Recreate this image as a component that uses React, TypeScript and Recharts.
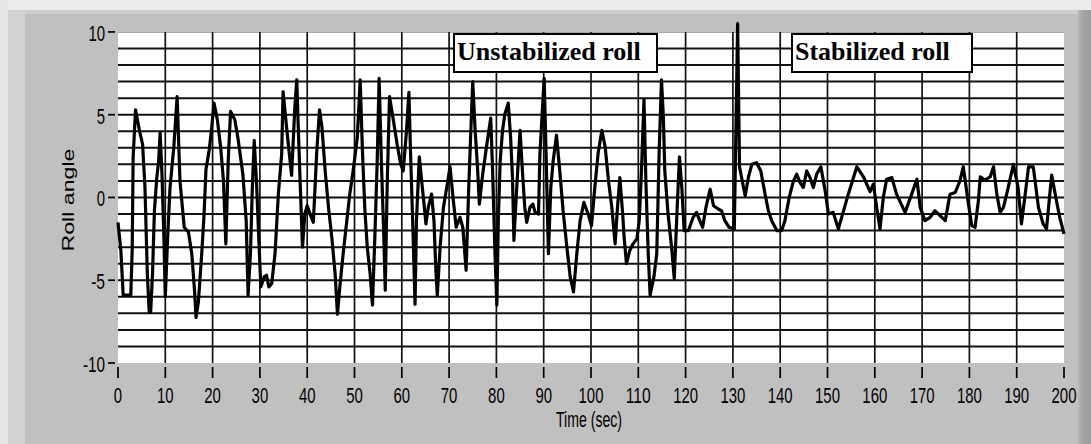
import React from "react";
import { LineChart, Line, XAxis, YAxis, ReferenceLine } from "recharts";

// roll angle trace (time in seconds)
const TIME_SEC = [
  0.0, 0.6, 1.1, 2.7, 3.0, 3.2, 3.7, 4.5, 5.2, 5.7, 6.2, 6.6, 6.9, 7.3, 7.7, 8.2, 8.6, 8.9, 9.3, 9.7,
  10.0, 10.5, 11.0, 11.8, 12.5, 13.1, 14.0, 14.9, 15.6, 16.2, 16.5, 17.0, 17.7, 18.2, 18.6, 19.3, 19.8,
  20.3, 21.0, 21.7, 22.3, 22.8, 23.3, 23.8, 24.7, 25.4, 26.4, 27.1, 27.5, 28.0, 28.4, 28.8, 29.3, 29.9,
  30.2, 30.9, 31.4, 31.9, 32.5, 33.2, 33.9, 34.6, 34.9, 35.7, 36.7, 37.4, 37.8, 38.1, 38.5, 39.0, 39.5,
  40.0, 40.6, 41.3, 42.0, 42.6, 43.1, 43.8, 44.5, 45.2, 45.9, 46.4, 46.9, 47.6, 48.3, 49.0, 49.8,
  50.6, 51.2, 51.7, 52.2, 52.7, 53.3, 53.8, 54.3, 54.8, 55.2, 55.7, 56.2, 56.5, 56.9, 57.4, 58.2, 59.1, 59.8,
  60.3, 61.0, 61.5, 61.9, 62.4, 62.8, 63.1, 63.7, 64.2, 64.7, 65.1, 65.6, 66.3, 66.8, 67.2, 67.5, 68.1, 68.8, 69.5,
  70.2, 70.9, 71.5, 72.3, 72.9, 73.6, 74.1, 74.6, 75.0, 75.5, 76.0, 76.4, 77.1, 77.9, 78.8, 79.2, 79.7,
  80.1, 80.4, 80.8, 81.3, 81.8, 82.5, 83.0, 83.4, 83.7, 84.3, 85.0, 85.5, 86.0, 86.4, 87.1, 87.7, 88.2, 88.9, 89.2,
  90.1, 90.5, 91.0, 91.5, 92.0, 92.7, 93.4, 94.1, 94.9, 95.6, 96.3, 97.0, 97.7, 98.5, 99.4,
  100.1, 100.8, 101.5, 102.3, 103.0, 103.7, 104.4, 105.1, 105.6, 106.1, 106.7, 107.0, 107.5, 108.2, 108.9, 109.7,
  110.2, 110.7, 111.2, 111.6, 112.1, 112.5, 113.3, 113.9, 114.4, 114.9, 115.3, 115.6, 116.3, 117.1, 117.6, 118.1, 118.7, 119.2, 119.7,
  120.6, 121.6, 122.3, 123.0, 123.6, 124.3, 125.2, 125.9, 126.9, 127.6, 128.3, 129.2, 130.3, 131.0, 131.4, 131.8, 132.6, 133.3, 134.0,
  135.0, 135.9, 136.8, 137.5, 138.2, 139.3, 140.3, 141.0, 141.9, 142.8, 143.5, 144.2, 144.9, 145.6, 146.3, 147.0, 147.7, 148.6, 149.5,
  150.2, 151.2, 152.3, 154.4, 156.2, 157.6, 159.0, 159.7, 160.4, 161.1, 161.8, 162.5, 163.6, 164.6, 166.4, 167.8, 168.9, 169.6,
  170.6, 171.7, 172.7, 173.8, 174.9, 175.9, 177.0, 178.0, 178.7, 179.8, 180.5, 181.2, 181.9, 182.3, 183.3, 184.4, 185.1, 185.8,
  186.5, 187.2, 188.2, 189.3, 190.3, 191.0, 191.8, 192.5, 193.5, 194.6, 195.6, 196.3, 197.0, 197.4, 198.4, 199.1, 200.0,
];

const ROLL_ANGLE = [
  -1.5, -3.2, -5.9, -5.9, -3.2, 2.4, 5.3, 4.1, 3.2, 0.6, -4.6, -6.95, -6.95, -4.6, -0.8, 1.2, 2.2, 3.9, 1.4, -2.4,
  -6.0, -2.4, 0.6, 3.05, 6.1, 1.0, -1.8, -2.1, -3.4, -5.7, -7.25, -6.3, -3.4, -1.0, 1.7, 2.9, 4.2,
  5.7, 4.7, 3.05, 1.0, -2.8, 2.2, 5.2, 4.7, 3.5, 1.4, -1.4, -5.9, -3.4, 0.6, 3.45, 0.8, -3.4,
  -5.4, -4.8, -4.7, -5.4, -5.2, -3.4, 0.2, 2.6, 6.4, 4.06, 1.33, 5.5, 7.1, 4.3, 1.0, -3.0, -1.0,
  -0.5, -1.0, -1.5, 2.65, 5.3, 4.3, 1.6, -0.6, -2.4, -4.6, -7.05, -5.4, -3.4, -1.6, 0.2, 1.8,
  3.65, 7.1, 2.65, -0.8, -3.0, -4.6, -6.5, -2.4, 2.2, 7.2, 2.0, -2.4, -5.6, 0.6, 6.1, 4.7, 3.05, 2.0,
  1.6, 4.06, 6.35, 2.2, -2.4, -6.45, -1.4, 2.45, 1.0, -0.4, -1.6, -0.6, 0.2, -1.4, -4.4, -5.9, -3.0, -0.6, 0.6,
  1.85, -0.2, -1.8, -1.2, -1.8, -4.4, 0.2, 4.06, 7.0, 4.06, 1.85, -0.4, 1.4, 3.05, 4.8, 1.6, -3.4,
  -6.5, -1.4, 2.2, 4.06, 5.05, 5.7, 3.65, 1.2, -2.6, 0.6, 4.06, 1.6, -0.6, -1.5, -0.6, -0.4, -0.9, -1.0, 2.65,
  7.2, 2.65, -3.4, 0.6, 2.2, 3.76, 1.6, -0.8, -3.0, -4.8, -5.7, -3.4, -1.4, -0.3, -1.0,
  -1.7, 0.6, 2.65, 4.06, 3.05, 1.0, -0.6, -2.8, -0.6, 1.2, -1.0, -2.4, -4.0, -3.2, -2.8, -2.5,
  -1.4, 1.85, 5.9, 1.0, -3.4, -5.9, -4.8, -3.4, 2.65, 7.1, 4.86, 1.6, -1.0, -3.2, -4.9, -1.4, 2.45, 0.6, -2.0,
  -2.0, -1.2, -0.9, -1.4, -1.8, -0.6, 0.5, -0.5, -0.7, -0.8, -1.4, -1.8, -1.9, 10.5, 1.85, 1.25, 0.1, 1.25, 2.0,
  2.1, 1.6, 0.2, -0.8, -1.4, -2.0, -2.0, -1.4, 0.0, 1.0, 1.4, 0.9, 0.6, 1.6, 1.2, 0.6, 1.4, 1.85, 0.4,
  -1.0, -0.9, -1.9, 0.2, 1.85, 1.25, 0.35, 0.8, -0.6, -1.9, 0.0, 1.1, 1.2, 0.2, -0.9, 0.2, 1.1, -0.6,
  -1.4, -1.2, -0.8, -1.1, -1.4, 0.2, 0.3, 1.0, 1.85, -0.4, -1.7, -1.8, -0.2, 1.25, 1.05, 1.25, 1.85, 0.2,
  -0.9, -0.6, 0.6, 2.0, 0.6, -1.6, 0.2, 1.85, 1.85, -0.6, -1.6, -1.9, 0.2, 1.35, -0.2, -1.2, -2.2,
];

const X_TICKS = [0, 10, 20, 30, 40, 50, 60, 70, 80, 90, 100, 110, 120, 130, 140, 150, 160, 170, 180, 190, 200];
const Y_TICKS = [-10, -5, 0, 5, 10];
const H_GRID = [-9, -8, -7, -6, -5, -4, -3, -2, -1, 0, 1, 2, 3, 4, 5, 6, 7, 8, 9];
const V_GRID = [10, 20, 30, 40, 50, 60, 70, 80, 90, 100, 110, 120, 130, 140, 150, 160, 170, 180, 190];

const NOTES = [
  { text: "Unstabilized roll", left: 453, width: 205 },
  { text: "Stabilized roll", left: 791, width: 182 },
];

const data = TIME_SEC.map((t, i) => ({ t, roll: ROLL_ANGLE[i] }));

const W = 1091;
const H = 444;
const PLOT = { left: 118, right: 1064, top10: 32, bottom: 363 };
const AXIS_FONT = "'Liberation Sans', Arial, sans-serif";

// narrow LabVIEW-ish digits: squeeze the text horizontally
const labelLen = (s: string) =>
  s.split("").reduce((w, c) => w + (c === "-" ? 5.5 : 8.3), 0);

function XTick(props: any) {
  const { x, y, payload } = props;
  const s = String(payload.value);
  return (
    <g>
      <line x1={x} x2={x} y1={y + 4} y2={y + 15} stroke="#000" strokeWidth={1.7} />
      <text
        x={x}
        y={y + 40}
        textAnchor="middle"
        fontSize={22.5}
        fontFamily={AXIS_FONT}
        fill="#000"
        textLength={labelLen(s)}
        lengthAdjust="spacingAndGlyphs"
      >
        {s}
      </text>
    </g>
  );
}

function YTick(props: any) {
  const { x, y, payload } = props;
  const s = String(payload.value);
  return (
    <g>
      <line x1={x - 10} x2={x - 3} y1={y} y2={y} stroke="#000" strokeWidth={1.7} />
      <text
        x={x - 13}
        y={y + 9}
        textAnchor="end"
        fontSize={22.5}
        fontFamily={AXIS_FONT}
        fill="#000"
        textLength={labelLen(s)}
        lengthAdjust="spacingAndGlyphs"
      >
        {s}
      </text>
    </g>
  );
}

const xTitle = (props: any) => {
  const vb = props.viewBox;
  return (
    <text
      x={vb.x + vb.width / 2 - 2}
      y={vb.y + 64}
      textAnchor="middle"
      fontSize={22}
      fontFamily={AXIS_FONT}
      fill="#000"
      textLength={66}
      lengthAdjust="spacingAndGlyphs"
    >
      Time (sec)
    </text>
  );
};

const yTitle = (props: any) => {
  const vb = props.viewBox;
  const cx = vb.x + 56;
  const cy = 200;
  return (
    <text
      x={cx}
      y={cy}
      transform={`rotate(-90 ${cx} ${cy})`}
      textAnchor="middle"
      fontSize={16}
      fontFamily={AXIS_FONT}
      fill="#000"
      textLength={103}
      lengthAdjust="spacingAndGlyphs"
    >
      Roll angle
    </text>
  );
};

export default function App() {
  return (
    <div
      style={{
        position: "absolute",
        left: 0,
        top: 0,
        width: W,
        height: H,
        background: "#c0c0c0",
        overflow: "hidden",
      }}
    >
      {/* panel frame */}
      <div style={{ position: "absolute", left: 0, top: 0, width: W, height: 10, background: "#ececec" }} />
      <div style={{ position: "absolute", left: 0, top: 10, width: W, height: 4, background: "#cdcdcd" }} />
      <div style={{ position: "absolute", left: 0, top: 0, width: 8, height: H, background: "#e6e6e6" }} />
      <div style={{ position: "absolute", left: 8, top: 10, width: 17, height: H - 10, background: "#d2d2d2" }} />
      <div
        style={{
          position: "absolute",
          left: 1078,
          top: 10,
          width: 13,
          height: H - 10,
          background: "linear-gradient(to right, #b8b8b8, #a4a4a4 40%, #9c9c9c)",
        }}
      />
      {/* plot background */}
      <div
        style={{
          position: "absolute",
          left: PLOT.left,
          top: PLOT.top10,
          width: PLOT.right - PLOT.left,
          height: PLOT.bottom - PLOT.top10,
          background: "#fff",
          borderTop: "1px solid #a8a8a8",
          boxSizing: "border-box",
        }}
      />
      <div style={{ position: "absolute", left: 0, top: 0 }}>
        <LineChart
          width={W}
          height={H}
          data={data}
          margin={{ top: 22, right: W - PLOT.right, bottom: 21, left: 18 }}
        >
          <XAxis
            dataKey="t"
            type="number"
            domain={[0, 200]}
            ticks={X_TICKS}
            interval={0}
            axisLine={false}
            tickLine={false}
            tickSize={0}
            tickMargin={0}
            height={60}
            tick={(p: any) => <XTick {...p} />}
            label={xTitle}
          />
          <YAxis
            type="number"
            domain={[-10, 10.6]}
            ticks={Y_TICKS}
            interval={0}
            axisLine={false}
            tickLine={false}
            tickSize={0}
            tickMargin={0}
            width={100}
            tick={(p: any) => <YTick {...p} />}
            label={yTitle}
          />
          {H_GRID.map((v) => (
            <ReferenceLine key={`h${v}`} y={v} stroke="#111" strokeWidth={2} />
          ))}
          {V_GRID.map((t) => (
            <ReferenceLine
              key={`v${t}`}
              segment={[
                { x: t, y: -10 },
                { x: t, y: 10 },
              ]}
              stroke="#111"
              strokeWidth={1.7}
            />
          ))}
          <Line
            dataKey="roll"
            type="linear"
            stroke="#000"
            strokeWidth={3.2}
            strokeLinejoin="round"
            dot={false}
            activeDot={false}
            isAnimationActive={false}
          />
        </LineChart>
      </div>
      {/* text boxes on the plot */}
      {NOTES.map((n) => (
        <div
          key={n.text}
          style={{
            position: "absolute",
            left: n.left,
            top: 33,
            width: n.width,
            height: 40,
            boxSizing: "border-box",
            border: "2px solid #000",
            background: "#fff",
            fontFamily: "'Liberation Serif', 'Times New Roman', serif",
            fontWeight: "bold",
            fontSize: 26,
            lineHeight: "33px",
            paddingLeft: 2,
            whiteSpace: "nowrap",
            color: "#000",
          }}
        >
          {n.text}
        </div>
      ))}
    </div>
  );
}
